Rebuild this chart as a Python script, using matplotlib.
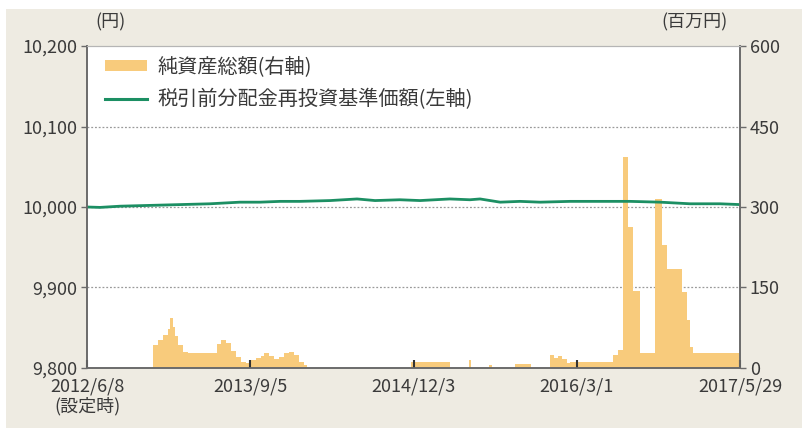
import matplotlib
matplotlib.use("Agg")
import matplotlib.pyplot as plt
from matplotlib.patches import Patch, Rectangle
from matplotlib.lines import Line2D
import pandas as pd

plt.rcParams['font.family'] = ['Noto Sans CJK JP', 'DejaVu Sans']

# ---- data ----
asset_dates = ["2012-06-08", "2012-12-08", "2012-12-22", "2013-01-05", "2013-01-19", "2013-01-26",
               "2013-02-02", "2013-02-09", "2013-02-16", "2013-03-02", "2013-03-16", "2013-06-05",
               "2013-06-15", "2013-06-29", "2013-07-13", "2013-07-27", "2013-08-10", "2013-08-24",
               "2013-09-07", "2013-09-21", "2013-10-05", "2013-10-12", "2013-10-26", "2013-11-09",
               "2013-11-23", "2013-12-07", "2013-12-21", "2014-01-04", "2014-01-18", "2014-02-01",
               "2014-02-10", "2014-11-25", "2015-03-14", "2015-05-06", "2015-05-13", "2015-07-01",
               "2015-07-08", "2015-09-10", "2015-10-27", "2015-12-18", "2015-12-28", "2016-01-08",
               "2016-01-20", "2016-02-02", "2016-02-10", "2016-06-10", "2016-06-24", "2016-07-08",
               "2016-07-22", "2016-08-05", "2016-08-24", "2016-10-05", "2016-10-25", "2016-11-07",
               "2016-12-19", "2017-01-02", "2017-01-10", "2017-01-19", "2017-05-29"]
asset_values = [0, 43, 52, 62, 72, 94,
                76, 60, 42, 30, 28, 45,
                52, 46, 32, 21, 12, 10,
                15, 18, 22, 28, 22, 16,
                20, 28, 30, 24, 12, 6,
                0, 12, 0, 15, 0, 5,
                0, 8, 0, 24, 18, 22,
                16, 10, 12, 25, 34, 394,
                262, 143, 28, 315, 230, 184,
                141, 90, 40, 28, 28]

nav_dates = ["2012-06-08", "2012-07-14", "2012-09-08", "2012-11-30", "2013-02-22", "2013-05-16",
             "2013-08-07", "2013-10-02", "2013-11-27", "2014-01-21", "2014-04-15", "2014-06-29",
             "2014-08-18", "2014-10-26", "2014-12-21", "2015-03-14", "2015-05-09", "2015-06-06",
             "2015-08-01", "2015-09-25", "2015-11-20", "2016-02-11", "2016-05-05", "2016-07-27",
             "2016-10-19", "2017-01-10", "2017-04-03", "2017-05-29"]
nav_values = [10000, 9999.5, 10001, 10002, 10003, 10004,
              10006, 10006, 10007, 10007, 10008, 10010,
              10008, 10009, 10008, 10010, 10009, 10010,
              10006, 10007, 10006, 10007, 10007, 10007,
              10006, 10004, 10004, 10003]

tick_dates = ["2012-06-08", "2013-09-05", "2014-12-03", "2016-03-01", "2017-05-29"]
tick_labels = ["2012/6/8\n(設定時)", "2013/9/5", "2014/12/3", "2016/3/1", "2017/5/29"]

left_ticks = [9800, 9900, 10000, 10100, 10200]
right_ticks = [0, 150, 300, 450, 600]

legend_labels = ["純資産総額(右軸)", "税引前分配金再投資基準価額(左軸)"]

# ---- style ----
BG = "#EEEBE2"
BAR = "#F8CB7C"
GREEN = "#1C8F63"
TXT = "#3a3a3a"
SPINE = "#6b6b6b"
FS = 13

fig = plt.figure(figsize=(8.02, 4.28), dpi=100)
fig.patch.set_facecolor("white")
fig.patches.append(Rectangle((0.008, 0.0), 0.992, 0.978, transform=fig.transFigure,
                             facecolor=BG, edgecolor="none", zorder=-10))

ax = fig.add_axes([0.1085, 0.1402, 0.8142, 0.7523])
ax2 = ax.twinx()
ax.set_zorder(ax2.get_zorder() + 1)
ax.patch.set_visible(False)
ax2.patch.set_facecolor("white")
ax2.patch.set_visible(True)

ad = pd.to_datetime(asset_dates)
ax2.fill_between(ad, asset_values, step="post", color=BAR, linewidth=0)
ax2.set_ylim(0, 600)
ax2.set_yticks(right_ticks)
ax2.set_yticklabels([f"{v:,}" for v in right_ticks])

nd = pd.to_datetime(nav_dates)
ax.plot(nd, nav_values, color=GREEN, linewidth=2.0, solid_capstyle="butt")
ax.set_ylim(9800, 10200)
ax.set_yticks(left_ticks)
ax.set_yticklabels([f"{v:,}" for v in left_ticks])

xmin, xmax = pd.Timestamp(tick_dates[0]), pd.Timestamp(tick_dates[-1])
ax.set_xlim(xmin, xmax)
ax.set_xticks(pd.to_datetime(tick_dates))
ax.set_xticklabels(tick_labels)

# gridlines
for v in [9900, 10000, 10100]:
    ax2.axhline((v - 9800) * 1.5, color="#9a9a9a", linewidth=0.9, linestyle=(0, (1.5, 1.5)), zorder=0.5)

for a in (ax, ax2):
    for s in ["left", "right", "bottom"]:
        a.spines[s].set_color(SPINE)
        a.spines[s].set_linewidth(1.2)
    a.spines["top"].set_color("#b5b5b5")
    a.spines["top"].set_linewidth(0.8)

ax.tick_params(axis="y", direction="out", length=4, width=1, color=SPINE, labelsize=FS,
               labelcolor=TXT, pad=3)
ax2.tick_params(axis="y", direction="out", length=4, width=1, color=SPINE, labelsize=FS,
                labelcolor=TXT, pad=3)
ax.tick_params(axis="x", direction="in", length=6, width=1.5, color="#333333", labelsize=FS,
               labelcolor=TXT, pad=7)
for lab in ax.get_xticklabels():
    lab.set_linespacing(1.1)

fig.text(95 / 802, 1 - 22 / 428, "(円)", fontsize=FS, color=TXT, ha="left", va="center")
fig.text(728 / 802, 1 - 22 / 428, "(百万円)", fontsize=FS, color=TXT, ha="right", va="center")

handles = [Patch(facecolor=BAR, edgecolor="none"), Line2D([0], [0], color=GREEN, linewidth=2.2)]
leg = ax.legend(handles, legend_labels, loc="upper left", bbox_to_anchor=(0.0276, 0.968),
                frameon=False, fontsize=14.5, handlelength=2.1, handleheight=0.45,
                handletextpad=0.5, labelspacing=0.6, borderpad=0, borderaxespad=0)
for t in leg.get_texts():
    t.set_color(TXT)

fig.savefig("out.png", dpi=100, facecolor=fig.get_facecolor())
